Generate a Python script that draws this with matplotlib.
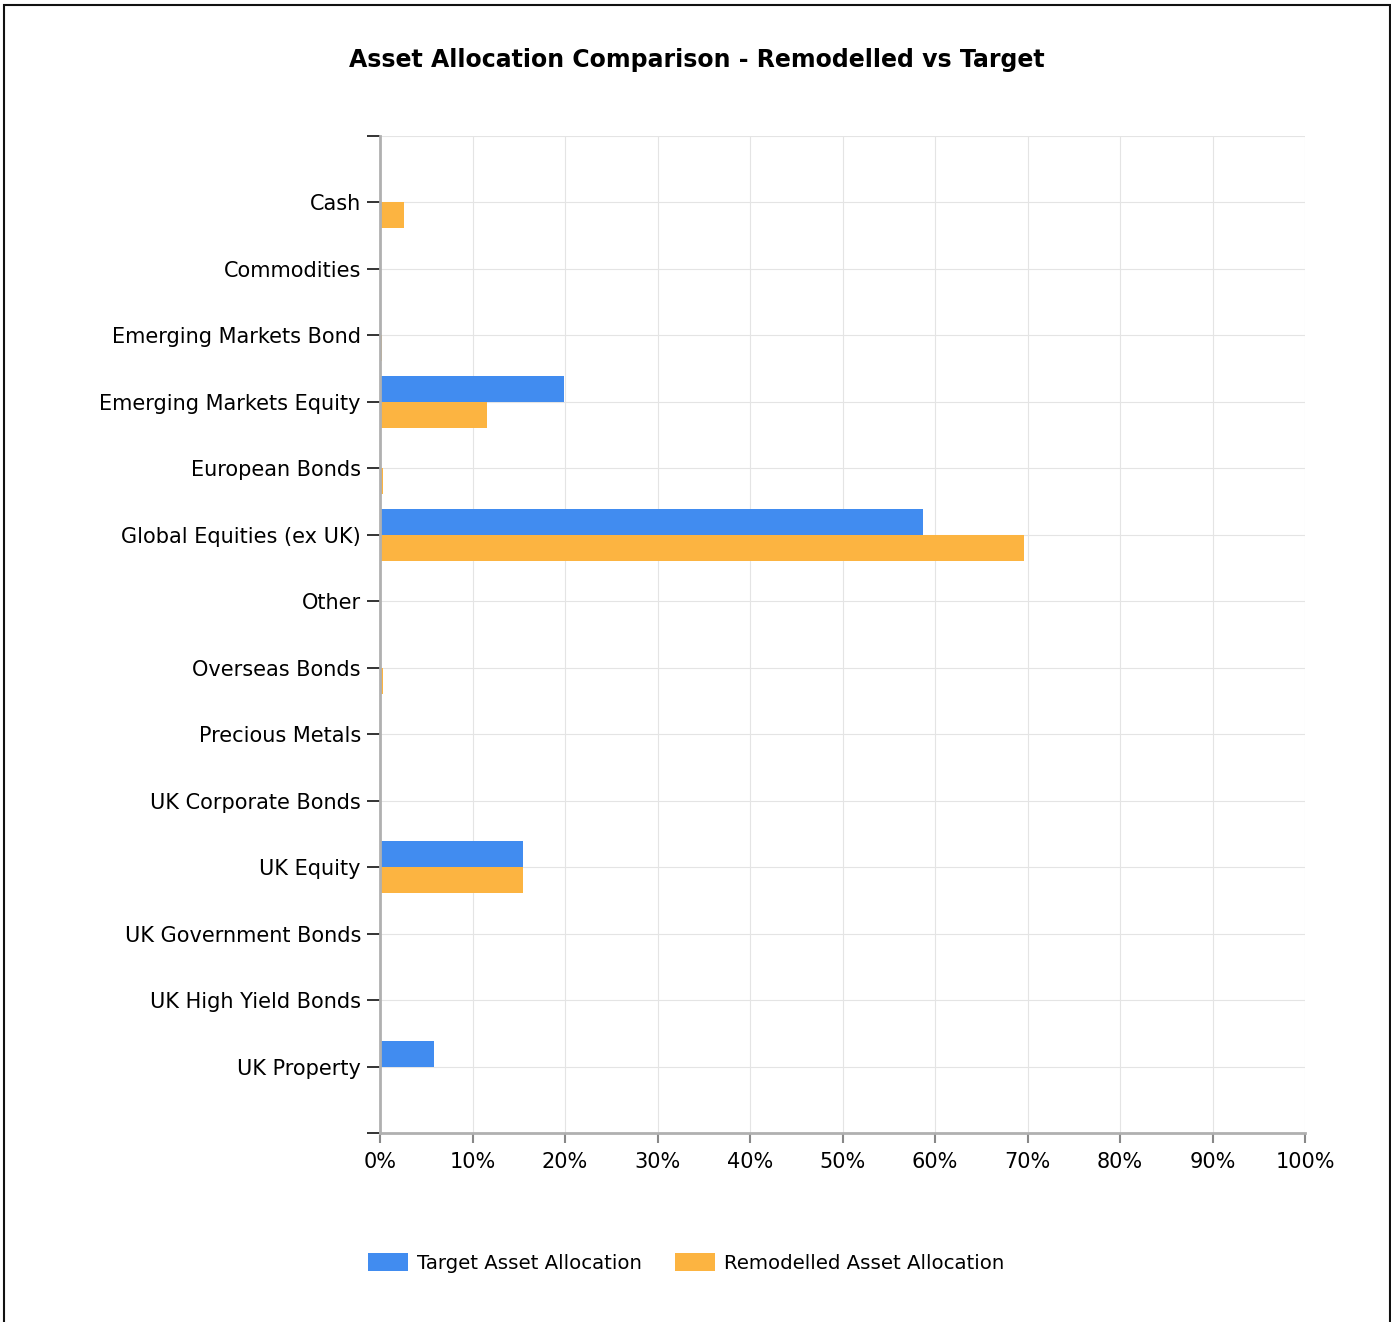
import matplotlib.pyplot as plt
import numpy as np
from matplotlib.patches import Rectangle

categories = ['Cash', 'Commodities', 'Emerging Markets Bond', 'Emerging Markets Equity',
              'European Bonds', 'Global Equities (ex UK)', 'Other', 'Overseas Bonds',
              'Precious Metals', 'UK Corporate Bonds', 'UK Equity', 'UK Government Bonds',
              'UK High Yield Bonds', 'UK Property']
target = [0, 0, 0, 19.9, 0, 58.7, 0, 0, 0, 0, 15.5, 0, 0, 5.8]
remodelled = [2.6, 0, 0.2, 11.6, 0.3, 69.6, 0.15, 0.3, 0, 0, 15.5, 0, 0, 0]
x_ticks = list(range(0, 101, 10))

blue = '#418CF0'
orange = '#FCB441'

W, H = 1391, 1322
fig = plt.figure(figsize=(W / 100, H / 100), dpi=100)
ax = fig.add_axes([380 / W, 1 - 1133 / H, (1305 - 380) / W, (1133 - 136) / H])

y = np.arange(len(categories))
bh = 0.39
ax.barh(y - bh / 2, target, height=bh, color=blue, label='Target Asset Allocation', zorder=3)
ax.barh(y + bh / 2, remodelled, height=bh, color=orange, label='Remodelled Asset Allocation', zorder=3)

ax.set_xlim(0, 100)
ax.set_ylim(len(categories), -1)
ax.set_yticks(list(range(-1, len(categories) + 1)))
ax.set_yticklabels([''] + categories + [''], fontsize=15)
ax.set_xticks(x_ticks)
ax.set_xticklabels([f'{v}%' for v in x_ticks], fontsize=15)
ax.tick_params(axis='y', length=9.4, width=1.2, color='#111111', pad=4.3)
ax.tick_params(axis='x', length=7, width=1.5, color='#888888', pad=6.5)

ax.grid(True, color='#e4e4e4', linewidth=0.8, zorder=0)
for s in ['top', 'right']:
    ax.spines[s].set_visible(False)
for s in ['left', 'bottom']:
    ax.spines[s].set_color('#b0b0b0')
    ax.spines[s].set_linewidth(2)
    ax.spines[s].set_zorder(4)

fig.text(697 / W, 1 - 60 / H, 'Asset Allocation Comparison - Remodelled vs Target',
         ha='center', va='center', fontsize=17, fontweight='bold')

fig.legend(loc='center', bbox_to_anchor=(686 / W, 1 - 1263 / H), ncol=2, frameon=False,
           fontsize=14.2, handlelength=2.03, handleheight=1.0, columnspacing=1.7,
           handletextpad=0.46)

fig.add_artist(Rectangle((4 / W, -0.01), (1390 - 4) / W, 1 - 5 / H + 0.01,
                         transform=fig.transFigure, fill=False, edgecolor='#111111',
                         linewidth=1.5))

fig.savefig('out.png', dpi=100)
